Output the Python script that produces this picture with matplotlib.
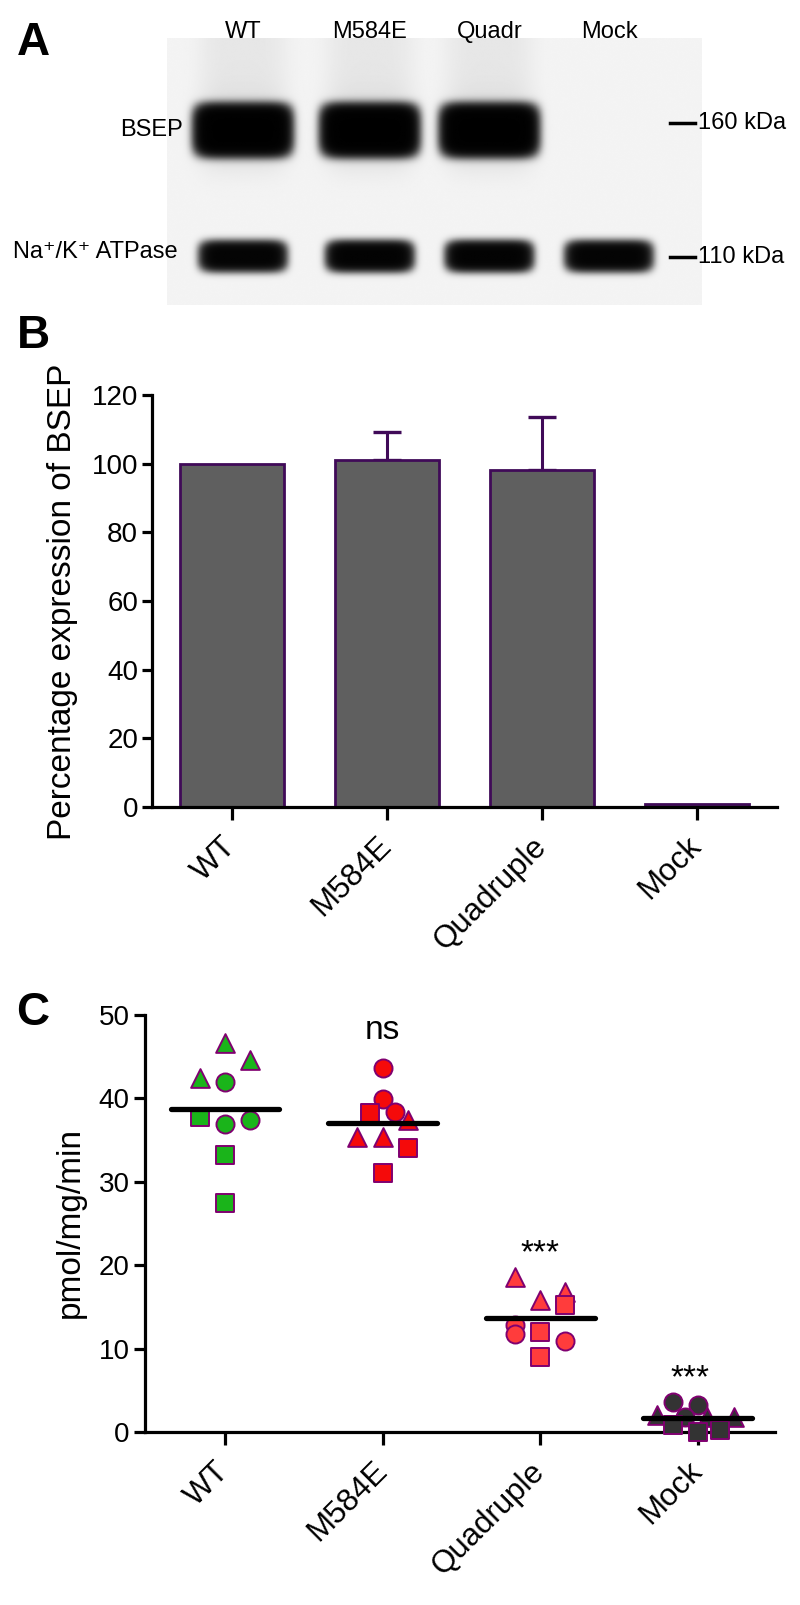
import numpy as np
import matplotlib
matplotlib.use('Agg')
import matplotlib.pyplot as plt
from matplotlib.transforms import ScaledTranslation

plt.rcParams['font.family'] = ['Liberation Sans', 'DejaVu Sans']

# ---------------- data ----------------
blot_lanes = ['WT', 'M584E', 'Quadr', 'Mock']
bsep_band = [1.0, 1.0, 1.0, 0.0]
atpase_band = [0.85, 0.9, 0.9, 0.85]

bar_groups = ['WT', 'M584E', 'Quadruple', 'Mock']
bar_values = [100.0, 101.0, 98.3, 0.8]
bar_err_up = [0.0, 8.2, 15.2, 0.0]

groups = ['WT', 'M584E', 'Quadruple', 'Mock']
wt_vals = [46.6, 44.6, 42.4, 42.0, 37.8, 36.9, 37.4, 33.2, 27.4]
wt_shape = ['^', '^', '^', 'o', 's', 'o', 'o', 's', 's']
wt_jit = [0.0, 0.16, -0.16, 0.0, -0.16, 0.0, 0.16, 0.0, 0.0]

m5_vals = [43.6, 39.9, 38.4, 38.2, 37.4, 35.4, 35.4, 34.0, 31.0]
m5_shape = ['o', 'o', 'o', 's', '^', '^', '^', 's', 's']
m5_jit = [0.0, 0.0, 0.08, -0.08, 0.16, -0.16, 0.0, 0.16, 0.0]

qd_vals = [18.6, 15.8, 16.8, 15.2, 12.8, 11.7, 12.0, 10.9, 9.0]
qd_shape = ['^', '^', '^', 's', 'o', 'o', 's', 'o', 's']
qd_jit = [-0.16, 0.0, 0.16, 0.16, -0.16, -0.16, 0.0, 0.16, 0.0]

mk_vals = [3.6, 3.2, 1.8, 2.0, 1.8, 1.8, 0.8, 0.0, 0.2]
mk_shape = ['o', 'o', 'o', '^', '^', '^', 's', 's', 's']
mk_jit = [-0.16, 0.0, -0.08, -0.26, 0.06, 0.23, -0.16, 0.0, 0.14]

group_colors = ['#1aB41a', '#f50a0a', '#ff3c3c', '#333333']
sig_labels = ['', 'ns', '***', '***']

# ---------------- figure ----------------
W, H = 800, 1605
fig = plt.figure(figsize=(W / 100, H / 100), dpi=100)


def fx(x):
    return x / W


def fy(y):
    return 1 - y / H


# ---------------- Panel A: blot ----------------
lane_pos = [0.0, 1.04, 2.02, 3.0]
x0, x1 = -0.62, 3.76
axA = fig.add_axes([fx(167), fy(305), fx(702) - fx(167), fy(38) - fy(305)])
xs = np.linspace(x0, x1, 700)
ys = np.linspace(0, 1, 350)
X, Y = np.meshgrid(xs, ys)
dens = np.zeros_like(X)
bsep_y, bsep_h = 0.345, 0.088
atp_y, atp_h = 0.818, 0.05
for i, (b, a) in enumerate(zip(bsep_band, atpase_band)):
    dx = X - lane_pos[i]
    lane = np.exp(-(np.abs(dx) / 0.375) ** 7)
    dens += 1.4 * b * lane * np.exp(-(np.abs(Y - bsep_y) / bsep_h) ** 4)
    smear = np.where(Y < bsep_y, 0.014 + 0.05 * (Y / bsep_y) ** 4,
                     0.05 * np.exp(-((Y - bsep_y) / 0.12) ** 2))
    dens += b * np.exp(-(np.abs(dx) / 0.36) ** 4) * smear
    lane2 = np.exp(-(np.abs(dx) / 0.335) ** 7)
    dens += 1.2 * a * lane2 * np.exp(-(np.abs(Y - atp_y) / atp_h) ** 3)
dark = 1 - np.exp(-4.0 * dens)
img = 0.955 * (1 - dark)
axA.imshow(img, cmap='gray', vmin=0, vmax=1, extent=[x0, x1, 1, 0],
           aspect='auto', interpolation='bilinear')
axA.set_xlim(x0, x1)
axA.set_ylim(1, 0)
axA.axis('off')
for i, lab in enumerate(blot_lanes):
    axA.text(lane_pos[i], -0.022, lab, ha='center', va='center', fontsize=17, clip_on=False)

fig.text(fx(183), fy(130), 'BSEP', ha='right', va='center', fontsize=17)
fig.text(fx(178), fy(252), 'Na\u207a/K\u207a ATPase', ha='right', va='center', fontsize=17,
         family=['Liberation Sans', 'DejaVu Sans'])
fig.text(fx(698), fy(123), '160 kDa', ha='left', va='center', fontsize=17)
fig.text(fx(698), fy(257), '110 kDa', ha='left', va='center', fontsize=17)
fig.lines.append(plt.Line2D([fx(670), fx(695)], [fy(123), fy(123)], transform=fig.transFigure, color='black', lw=2.5))
fig.lines.append(plt.Line2D([fx(670), fx(695)], [fy(257), fy(257)], transform=fig.transFigure, color='black', lw=2.5))

fig.text(fx(17), fy(55), 'A', fontsize=33, fontweight='bold', ha='left', va='baseline')
fig.text(fx(17), fy(348), 'B', fontsize=33, fontweight='bold', ha='left', va='baseline')
fig.text(fx(16), fy(1025), 'C', fontsize=33, fontweight='bold', ha='left', va='baseline')

spine_lw = 2.3
xlab_size = 22.5
xlab_shift = ScaledTranslation(3 / 100, 0, fig.dpi_scale_trans)


def style_xlabels(ax, names):
    ax.set_xticklabels(names, rotation=45, ha='right', va='center', rotation_mode='anchor')
    for lab in ax.get_xticklabels():
        lab.set_transform(lab.get_transform() + xlab_shift)


# ---------------- Panel B: bars ----------------
axB = fig.add_axes([fx(152), fy(807), fx(777) - fx(152), fy(395) - fy(807)])
xb = np.arange(len(bar_groups))
axB.bar(xb, bar_values, width=0.665, color='#5f5f5f', edgecolor='#400a58', linewidth=2.0, zorder=2)
axB.errorbar(xb[1:3], np.array(bar_values[1:3]), yerr=[np.zeros(2), np.array(bar_err_up[1:3])],
             fmt='none', ecolor='#400a58', elinewidth=2.2, capsize=10, capthick=2.4, zorder=1)
axB.set_xlim(-0.516, 3.516)
axB.set_ylim(0, 120)
axB.set_yticks(np.arange(0, 121, 20))
axB.set_xticks(xb)
style_xlabels(axB, bar_groups)
for s in ['top', 'right']:
    axB.spines[s].set_visible(False)
for s in ['left', 'bottom']:
    axB.spines[s].set_linewidth(spine_lw)
axB.tick_params(axis='y', length=7, width=spine_lw, labelsize=20, pad=3)
axB.tick_params(axis='x', length=9, width=spine_lw, labelsize=xlab_size, pad=16)
fig.text(fx(63), fy(602), 'Percentage expression of BSEP', rotation=90, ha='center', va='center', fontsize=24)

# ---------------- Panel C: scatter ----------------
axC = fig.add_axes([fx(145), fy(1432), fx(775) - fx(145), fy(1015) - fy(1432)])
edge = '#800070'
sizes = {'o': 13.0 ** 2, 's': 12.3 ** 2, '^': 13.5 ** 2}
allv = [wt_vals, m5_vals, qd_vals, mk_vals]
alls = [wt_shape, m5_shape, qd_shape, mk_shape]
allj = [wt_jit, m5_jit, qd_jit, mk_jit]
for gi in range(len(groups)):
    for v, sh, j in zip(allv[gi], alls[gi], allj[gi]):
        axC.scatter([gi + j], [v], marker=sh, s=sizes[sh], facecolor=group_colors[gi],
                    edgecolor=edge, linewidth=1.4, zorder=3, clip_on=False)
    m = np.mean(allv[gi])
    axC.hlines(m, gi - 0.345, gi + 0.345, color='black', lw=3.8, zorder=4, capstyle='round')
axC.set_xlim(-0.507, 3.49)
axC.set_ylim(0, 50)
axC.set_yticks(np.arange(0, 51, 10))
axC.set_xticks(np.arange(len(groups)))
style_xlabels(axC, groups)
for s in ['top', 'right']:
    axC.spines[s].set_visible(False)
for s in ['left', 'bottom']:
    axC.spines[s].set_linewidth(spine_lw)
    axC.spines[s].set_zorder(2)
axC.tick_params(axis='y', length=8, width=spine_lw, labelsize=20, pad=3)
axC.tick_params(axis='x', length=9, width=spine_lw, labelsize=xlab_size, pad=16)
fig.text(fx(70), fy(1222), 'pmol/mg/min', rotation=90, ha='center', va='center', fontsize=24)

axC.text(1, 48.2, sig_labels[1], ha='center', va='center', fontsize=24)
axC.text(2, 20.3, sig_labels[2], ha='center', va='baseline', fontsize=24)
axC.text(2.95, 5.4, sig_labels[3], ha='center', va='baseline', fontsize=24)

fig.savefig('out.png', dpi=100, facecolor='white')
